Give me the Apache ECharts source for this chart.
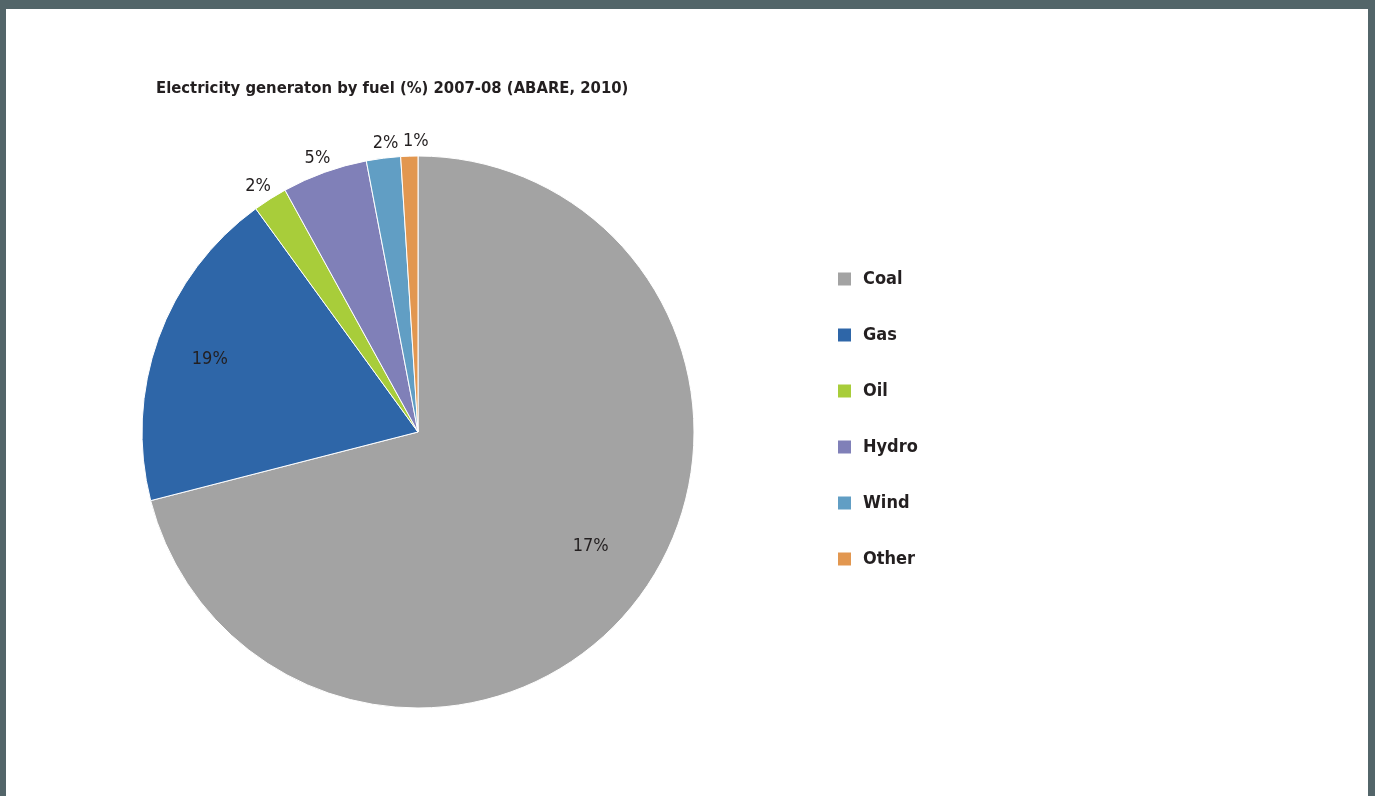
<!DOCTYPE html>
<html><head><meta charset="utf-8">
<script src="https://cdn.jsdelivr.net/npm/echarts@6/dist/echarts.min.js"></script>
<style>
html,body{margin:0;padding:0;background:#536569;}
#c{position:absolute;left:0;top:0;width:1375px;height:796px;}
</style></head><body>
<div id="c"></div>
<script>
const categories = ['Coal','Gas','Oil','Hydro','Wind','Other'];
const values = [71, 19, 2, 5, 2, 1];
const labelTexts = ['17%','19%','2%','5%','2%','1%'];
const colors = ['#a3a3a3','#2e66a8','#a8cd3a','#8080b8','#619ec4','#e29750'];
const insideLabels = ['Coal','Gas'];
const titleText = 'Electricity generaton by fuel (%) 2007-08 (ABARE, 2010)';

const FONT = '"Liberation Sans Narrow","Arial Narrow","DejaVu Sans Condensed","Liberation Sans",sans-serif';
const cx = 418, cy = 432, R = 276;
// label nudges per category: horizontal padding [top,right,bottom,left], vertical spacer height
const labelPad = {Coal:[0,0,0,4], Gas:[0,10,0,0], Oil:[0,8,0,0], Hydro:[0,4,0,0], Wind:[0,0,0,8], Other:[0,0,0,14]};
const labelLift = {Coal:36, Gas:0, Oil:0, Hydro:0, Wind:0, Other:0};

const chart = echarts.init(document.getElementById('c'), null, {renderer:'canvas'});
const mainData = categories.map((n,i)=>({name:n, value:values[i], itemStyle:{color:colors[i]}}));
function labelData(inside){
  return categories.map((n,i)=>{
    const show = inside ? insideLabels.includes(n) : !insideLabels.includes(n);
    const lift = labelLift[n];
    return {name:n, value:values[i], itemStyle:{color:'rgba(0,0,0,0)'},
      label:{show:show, padding:labelPad[n],
        formatter: lift ? '{t|' + labelTexts[i] + '}\n{s|}' : '{t|' + labelTexts[i] + '}',
        rich:{t:{fontFamily:FONT, fontSize:18, color:'#231f20', lineHeight:22}, s:{height:lift, lineHeight:lift}}}};
  });
}
chart.setOption({
  animation:false,
  graphic:[{type:'rect', shape:{x:6,y:9,width:1362,height:800}, style:{fill:'#ffffff'}, z:-10, silent:true}],
  title:{text:titleText, left:151, top:75,
    textStyle:{fontFamily:FONT, fontWeight:'bold', fontSize:16.5, color:'#231f20'}},
  legend:{orient:'vertical', left:831, top:265, itemWidth:15, itemHeight:15, itemGap:38,
    icon:'rect', data:categories,
    textStyle:{fontFamily:FONT, fontWeight:'bold', fontSize:18, color:'#231f20', padding:[0,0,0,6]}},
  series:[
    {type:'pie', center:[cx,cy], radius:[0,R], startAngle:90, clockwise:true,
      data:mainData, label:{show:false}, labelLine:{show:false},
      itemStyle:{borderColor:'#ffffff', borderWidth:1}, emphasis:{disabled:true}, silent:true},
    {type:'pie', center:[cx,cy], radius:[200,226], startAngle:90, clockwise:true,
      data:labelData(true), legendHoverLink:false, silent:true, emphasis:{disabled:true},
      label:{position:'inside', fontFamily:FONT, fontSize:18, color:'#231f20'}, labelLine:{show:false}, z:5},
    {type:'pie', center:[cx,cy], radius:[278,298], startAngle:90, clockwise:true,
      data:labelData(false), legendHoverLink:false, silent:true, emphasis:{disabled:true},
      label:{position:'inside', fontFamily:FONT, fontSize:18, color:'#231f20'}, labelLine:{show:false}, z:5}
  ]
});
</script></body></html>
